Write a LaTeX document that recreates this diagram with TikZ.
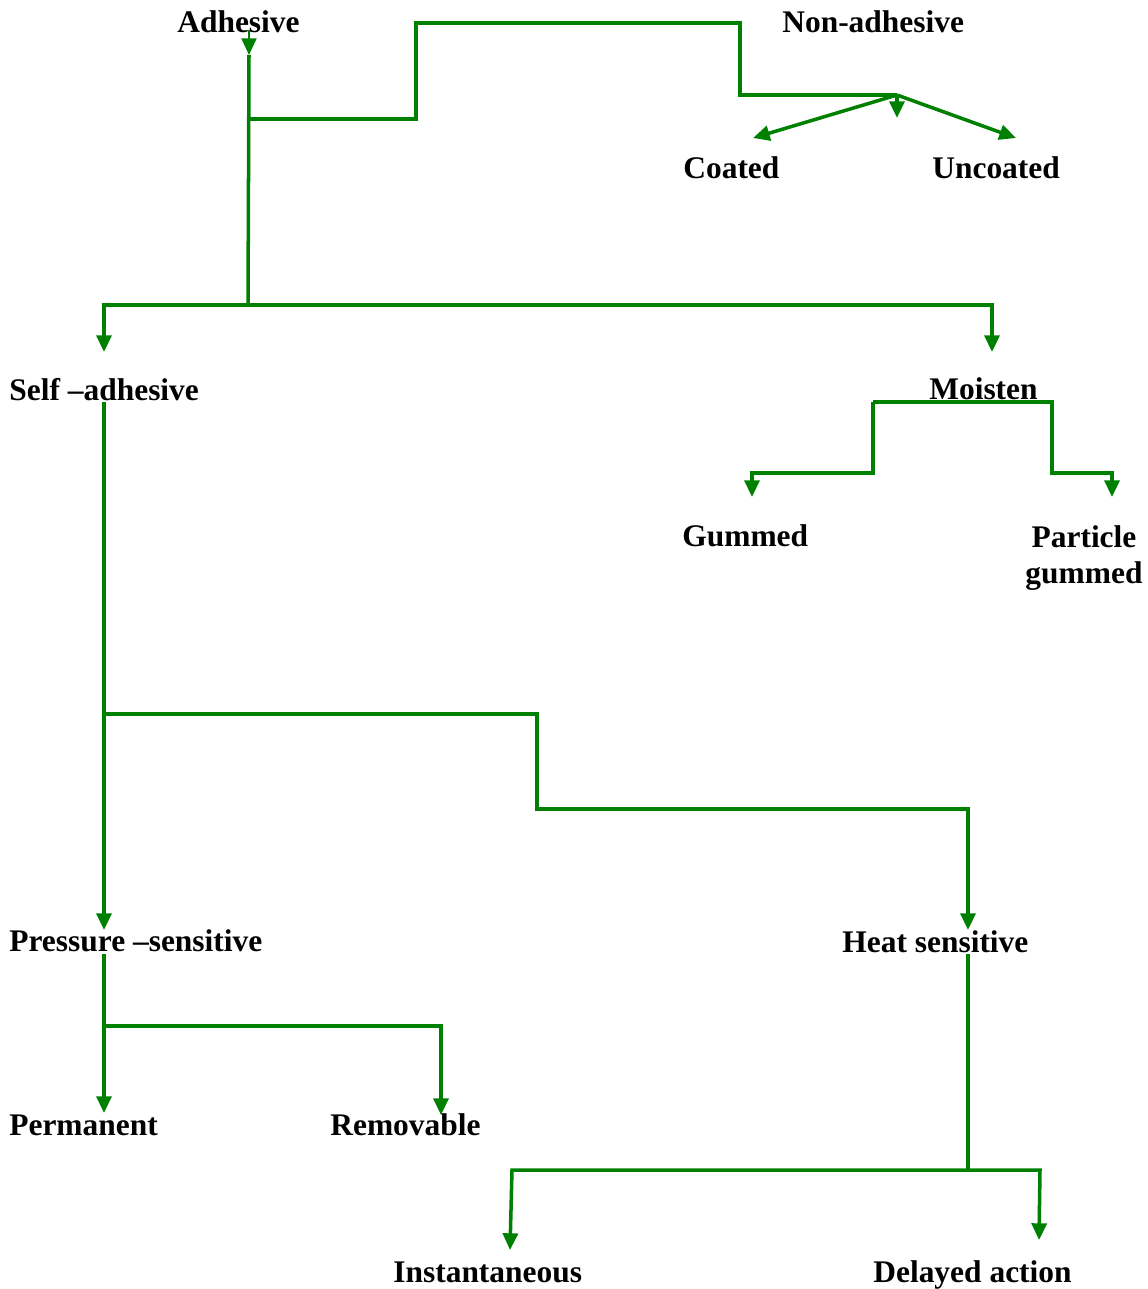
\documentclass[tikz,border=0pt]{standalone}
\usepackage{fontspec}
\setmainfont{Liberation Serif}
\usetikzlibrary{arrows.meta}
\definecolor{lg}{RGB}{0,128,0}
\begin{document}
\begin{tikzpicture}[x=0.02cm,y=-0.02cm,
  lbl/.style={inner sep=0pt,anchor=base west,font=\bfseries\fontsize{17.9}{20.4}\selectfont},
  conn/.style={draw=lg,line width=2pt,line join=miter},
  arr/.style={conn,-{Triangle[length=9.5pt,width=8.5pt]}}]
\useasboundingbox (0,0) rectangle (1148,1289);
% labels
\node[lbl] (adh) at (177,32) {Adhesive};
\node[lbl] (nonadh) at (782,32) {Non-adhesive};
\node[lbl] (coat) at (683,178) {Coated};
\node[lbl] (uncoat) at (932,178) {Uncoated};
\node[lbl] (self) at (9,400) {Self –adhesive};
\node[lbl] (moist) at (929,399) {Moisten};
\node[lbl] (gum) at (682,546) {Gummed};
\node[lbl,anchor=base,align=center] (part) at (1084,583) {Particle\\gummed};
\node[lbl] (press) at (9,951) {Pressure –sensitive};
\node[lbl] (heat) at (842,952) {Heat sensitive};
\node[lbl] (perm) at (9,1135) {Permanent};
\node[lbl] (remov) at (330,1135) {Removable};
\node[lbl] (inst) at (393,1282) {Instantaneous};
\node[lbl] (delay) at (873,1282) {Delayed action};
% junction coordinates
\coordinate (a0) at (249,30);
\coordinate (a1) at (249,55);
\coordinate (a2) at (249,119);
\coordinate (a3) at (248,305);
\coordinate (n0) at (897,95);
\coordinate (nC) at (753,138);
\coordinate (nM) at (897,118);
\coordinate (nU) at (1016,138);
\coordinate (sTip) at (104,352);
\coordinate (mTip) at (992,352);
\coordinate (m0) at (873,402);
\coordinate (gTip) at (752,497);
\coordinate (pTip) at (1112,497);
\coordinate (s0) at (104,402);
\coordinate (s1) at (104,714);
\coordinate (prTip) at (104,930);
\coordinate (hTip) at (968,930);
\coordinate (p0) at (104,954);
\coordinate (p1) at (104,1026);
\coordinate (permTip) at (104,1113);
\coordinate (remTip) at (441,1115);
\coordinate (h0) at (968,954);
\coordinate (h1) at (968,1170);
\coordinate (iTip) at (510,1250);
\coordinate (dTip) at (1039,1240);
% connectors
\draw[arr,line width=1.3pt] (a0) -- (a1);
\draw[conn] (a1) -- (a3);
\draw[conn] (a2) -- (416,119) -- (416,23) -- (740,23) -- (740,95) -- (n0);
\draw[arr] (n0) -- (nC);
\draw[arr] (n0) -- (nM);
\draw[arr] (n0) -- (nU);
\draw[arr] (a3) -| (sTip);
\draw[arr] (a3) -| (mTip);
\draw[arr] (m0) -- (873,473) -| (gTip);
\draw[arr] (m0) -- (1052,402) -- (1052,473) -| (pTip);
\draw[arr] (s0) -- (prTip);
\draw[arr] (s1) -- (537,714) -- (537,809) -- (968,809) -- (hTip);
\draw[arr] (p0) -- (permTip);
\draw[arr] (p1) -- (441,1026) -- (remTip);
\draw[conn] (h0) -- (h1);
\draw[arr] (h1) -- (512,1170) -- (iTip);
\draw[arr] (h1) -- (1040,1170) -- (dTip);
\end{tikzpicture}
\end{document}
